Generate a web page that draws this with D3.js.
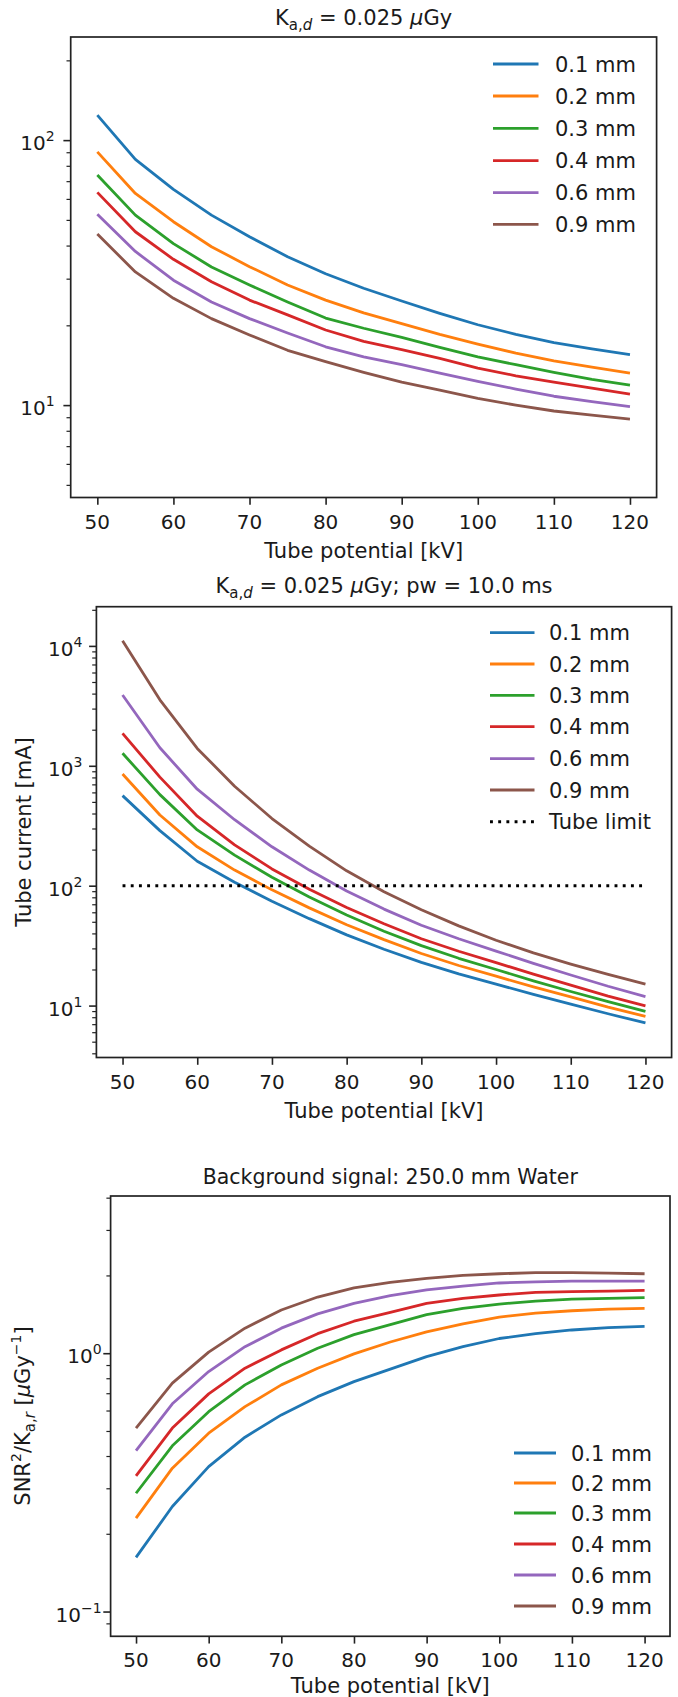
<!DOCTYPE html>
<html>
<head>
<meta charset="utf-8">
<script src="https://cdn.jsdelivr.net/npm/d3@7/dist/d3.min.js"></script>
<style>
  body { margin: 0; background: #fff; }
  svg { display: block; }
  text { font-family: "DejaVu Sans", sans-serif; fill: #1a1a1a; }
</style>
</head>
<body>
<script>
// ---------------- DATA ----------------
const kv = [50, 55, 60, 65, 70, 75, 80, 85, 90, 95, 100, 105, 110, 115, 120];
const labels = ["0.1 mm", "0.2 mm", "0.3 mm", "0.4 mm", "0.6 mm", "0.9 mm"];
const colors = ["#1f77b4", "#ff7f0e", "#2ca02c", "#d62728", "#9467bd", "#8c564b"];
const xTicks = [50, 60, 70, 80, 90, 100, 110, 120];

// Panel 1 : K_a,d = 0.025 uGy
const p1_01 = [124.3, 84.6, 65.2, 52.1, 43.2, 36.3, 31.3, 27.6, 24.7, 22.2, 20.1, 18.5, 17.2, 16.3, 15.5];
const p1_02 = [90.3, 62.9, 49.2, 39.6, 33.3, 28.4, 24.9, 22.3, 20.3, 18.5, 17.0, 15.7, 14.7, 13.9, 13.2];
const p1_03 = [73.8, 52.1, 40.7, 33.2, 28.4, 24.5, 21.3, 19.5, 18.0, 16.5, 15.2, 14.2, 13.3, 12.5, 11.9];
const p1_04 = [63.5, 45.1, 35.5, 29.2, 24.9, 21.9, 19.2, 17.4, 16.2, 15.0, 13.8, 12.9, 12.2, 11.6, 11.0];
const p1_06 = [52.5, 38.0, 29.6, 24.5, 21.2, 18.7, 16.6, 15.2, 14.2, 13.2, 12.3, 11.5, 10.8, 10.3, 9.86];
const p1_09 = [44.2, 31.8, 25.3, 21.2, 18.4, 16.1, 14.6, 13.3, 12.2, 11.4, 10.6, 10.0, 9.5, 9.17, 8.85];

// Panel 2 : tube current [mA]
const p2_01 = [564, 288, 160, 107, 74.1, 53.1, 38.9, 29.5, 22.9, 18.4, 15.1, 12.4, 10.3, 8.55, 7.16];
const p2_02 = [855, 389, 211, 135, 92.3, 65.3, 47.3, 35.5, 27.2, 21.6, 17.6, 14.3, 11.8, 9.70, 8.13];
const p2_03 = [1271, 575, 292, 180, 117.5, 80.4, 56.9, 41.7, 31.6, 24.8, 20.0, 16.1, 13.1, 10.8, 8.95];
const p2_04 = [1866, 804, 380, 219, 138, 93.3, 65.8, 48.1, 36.1, 28.4, 22.8, 18.3, 14.8, 12.0, 9.93];
const p2_06 = [3890, 1413, 638, 355, 211, 135, 90.2, 63.8, 46.8, 36.1, 28.5, 22.5, 18.0, 14.5, 11.9];
const p2_09 = [11040, 3548, 1396, 676, 363, 214, 133, 89.1, 63.1, 46.2, 35.1, 27.5, 22.2, 18.2, 15.1];
const tubeLimit = 100;

// Panel 3 : SNR^2 / K_a,r
const p3_01 = [0.162, 0.255, 0.364, 0.473, 0.577, 0.679, 0.776, 0.868, 0.970, 1.06, 1.14, 1.19, 1.23, 1.255, 1.27];
const p3_02 = [0.230, 0.359, 0.490, 0.621, 0.754, 0.875, 0.994, 1.105, 1.21, 1.30, 1.38, 1.43, 1.46, 1.48, 1.49];
const p3_03 = [0.287, 0.438, 0.594, 0.754, 0.901, 1.045, 1.18, 1.29, 1.41, 1.49, 1.55, 1.59, 1.62, 1.63, 1.64];
const p3_04 = [0.335, 0.513, 0.696, 0.875, 1.03, 1.19, 1.33, 1.44, 1.56, 1.63, 1.68, 1.72, 1.73, 1.74, 1.75];
const p3_06 = [0.420, 0.637, 0.849, 1.06, 1.25, 1.42, 1.56, 1.67, 1.76, 1.82, 1.87, 1.89, 1.90, 1.90, 1.90];
const p3_09 = [0.513, 0.766, 1.01, 1.25, 1.47, 1.65, 1.79, 1.88, 1.95, 2.00, 2.03, 2.05, 2.05, 2.04, 2.03];

// ---------------- DRAW ----------------
const W = 678, H = 1697;
const svg = d3.select("body").append("svg").attr("width", W).attr("height", H);

const LW = 2.8;

function addTitle(g, x, y, parts, size) {
  const t = g.append("text").attr("x", x).attr("y", y).attr("text-anchor", "middle")
    .attr("font-size", size);
  parts.forEach(p => {
    const s = t.append("tspan").text(p.t);
    if (p.fs) s.attr("font-size", p.fs);
    if (p.dy) s.attr("dy", p.dy);
    if (p.it) s.attr("font-style", "italic");
  });
  return t;
}

function panel(cfg) {
  const g = svg.append("g");
  const x = d3.scaleLinear().domain([46.5, 123.5]).range([cfg.left, cfg.right]);
  const y = d3.scaleLog().domain(cfg.ydomain).range([cfg.bottom, cfg.top]);

  // minor / major ticks on y
  const [ymin, ymax] = cfg.ydomain;
  const e0 = Math.floor(Math.log10(ymin)), e1 = Math.ceil(Math.log10(ymax));
  const majors = [], minors = [];
  for (let e = e0; e <= e1; e++) {
    const b = Math.pow(10, e);
    if (b >= ymin && b <= ymax) majors.push(b);
    for (let k = 2; k <= 9; k++) {
      const v = k * b;
      if (v >= ymin && v <= ymax) minors.push(v);
    }
  }

  // axes via d3
  const yAxisMinor = d3.axisLeft(y).tickValues(minors).tickSize(4.2).tickFormat("");
  const yAxisMajor = d3.axisLeft(y).tickValues(majors).tickSize(7.3).tickFormat("");
  const xAxis = d3.axisBottom(x).tickValues(xTicks).tickSize(7.3).tickFormat("");

  const gyMin = g.append("g").attr("transform", `translate(${cfg.left},0)`).call(yAxisMinor);
  const gyMaj = g.append("g").attr("transform", `translate(${cfg.left},0)`).call(yAxisMajor);
  const gx = g.append("g").attr("transform", `translate(0,${cfg.bottom})`).call(xAxis);
  [gyMin, gyMaj, gx].forEach(a => {
    a.select(".domain").remove();
    a.selectAll("line").attr("stroke", "#222");
  });
  gyMin.selectAll("line").attr("stroke-width", 1.2);
  gyMaj.selectAll("line").attr("stroke-width", 1.6);
  gx.selectAll("line").attr("stroke-width", 1.6);

  // y major labels 10^n
  majors.forEach(v => {
    const e = Math.round(Math.log10(v));
    const t = g.append("text").attr("x", cfg.left - cfg.ylabGap).attr("y", y(v) + 10)
      .attr("text-anchor", "end").attr("font-size", 20);
    t.append("tspan").text("10");
    t.append("tspan").attr("dy", -9).attr("font-size", 14).text(e < 0 ? "\u2212" + (-e) : String(e));
  });
  // x labels
  xTicks.forEach(v => {
    g.append("text").attr("x", x(v)).attr("y", cfg.bottom + 31).attr("text-anchor", "middle")
      .attr("font-size", 20).text(v);
  });

  // data lines
  const line = d3.line().x(d => x(d[0])).y(d => y(d[1]));
  cfg.series.forEach((s, i) => {
    g.append("path").datum(kv.map((k, j) => [k, s[j]]))
      .attr("d", line).attr("fill", "none").attr("stroke", colors[i])
      .attr("stroke-width", LW).attr("stroke-linejoin", "round").attr("stroke-linecap", "butt");
  });
  if (cfg.limit) {
    g.append("path").datum([[kv[0], cfg.limit], [kv[kv.length - 1], cfg.limit]])
      .attr("d", line).attr("fill", "none").attr("stroke", "#000")
      .attr("stroke-width", 2.9).attr("stroke-dasharray", "2.9 5.3");
  }

  // frame
  g.append("rect").attr("x", cfg.left).attr("y", cfg.top)
    .attr("width", cfg.right - cfg.left).attr("height", cfg.bottom - cfg.top)
    .attr("fill", "none").attr("stroke", "#222").attr("stroke-width", 1.7);

  // legend
  const L = cfg.legend;
  const items = labels.map((l, i) => ({ l, c: colors[i], dash: null }));
  if (cfg.limit) items.push({ l: "Tube limit", c: "#000", dash: "2.9 5.3" });
  items.forEach((it, i) => {
    const yy = L.rows[i];
    g.append("line").attr("x1", L.x1).attr("x2", L.x2).attr("y1", yy).attr("y2", yy)
      .attr("stroke", it.c).attr("stroke-width", it.dash ? 2.9 : LW)
      .attr("stroke-dasharray", it.dash);
    g.append("text").attr("x", L.tx).attr("y", yy + 7.5).attr("font-size", 21).text(it.l);
  });

  // x label
  g.append("text").attr("x", (cfg.left + cfg.right) / 2).attr("y", cfg.xlabY)
    .attr("text-anchor", "middle").attr("font-size", 21).text("Tube potential [kV]");

  return g;
}

// Panel 1
const g1 = panel({
  left: 70.7, right: 656.6, top: 37, bottom: 497.5, ylabGap: 16,
  ydomain: [4.48, 245],
  series: [p1_01, p1_02, p1_03, p1_04, p1_06, p1_09],
  legend: { x1: 493, x2: 538.5, tx: 555, rows: [64, 96, 128.3, 160.7, 192.7, 224.3] },
  xlabY: 558
});
addTitle(g1, 363.6, 25, [
  { t: "K" }, { t: "a,", fs: 15, dy: 5 }, { t: "d", fs: 15, it: true }, { t: " = 0.025 ", dy: -5 },
  { t: "\u03bc", it: true }, { t: "Gy" }
], 21);

// Panel 2
const g2 = panel({
  left: 96.4, right: 671.6, top: 606.7, bottom: 1057.5, ylabGap: 14,
  ydomain: [3.69, 21230],
  series: [p2_01, p2_02, p2_03, p2_04, p2_06, p2_09],
  limit: tubeLimit,
  legend: { x1: 490, x2: 534.5, tx: 549, rows: [632.7, 664, 695.3, 726.7, 758.7, 790, 821.7] },
  xlabY: 1118
});
addTitle(g2, 384, 593, [
  { t: "K" }, { t: "a,", fs: 15, dy: 5 }, { t: "d", fs: 15, it: true }, { t: " = 0.025 ", dy: -5 },
  { t: "\u03bc", it: true }, { t: "Gy; pw = 10.0 ms" }
], 21);
g2.append("text").attr("transform", "translate(31,832) rotate(-90)")
  .attr("text-anchor", "middle").attr("font-size", 21).text("Tube current [mA]");

// Panel 3
const g3 = panel({
  left: 110.6, right: 670, top: 1196, bottom: 1636.3, ylabGap: 9,
  ydomain: [0.0802, 4.06],
  series: [p3_01, p3_02, p3_03, p3_04, p3_06, p3_09],
  legend: { x1: 514, x2: 556, tx: 571, rows: [1453, 1483, 1513, 1544, 1575, 1606] },
  xlabY: 1693
});
addTitle(g3, 390.3, 1184, [{ t: "Background signal: 250.0 mm Water" }], 20.5);
const yl3 = g3.append("text").attr("transform", "translate(30,1416) rotate(-90)")
  .attr("text-anchor", "middle").attr("font-size", 21);
yl3.append("tspan").text("SNR");
yl3.append("tspan").attr("font-size", 14).attr("dy", -9).text("2");
yl3.append("tspan").attr("dy", 9).text("/K");
yl3.append("tspan").attr("font-size", 15).attr("dy", 5).text("a,");
yl3.append("tspan").attr("font-size", 15).attr("font-style", "italic").text("r");
yl3.append("tspan").attr("dy", -5).text(" [");
yl3.append("tspan").attr("font-style", "italic").text("\u03bc");
yl3.append("tspan").text("Gy");
yl3.append("tspan").attr("font-size", 14).attr("dy", -9).text("\u22121");
yl3.append("tspan").attr("dy", 9).text("]");
</script>
</body>
</html>
